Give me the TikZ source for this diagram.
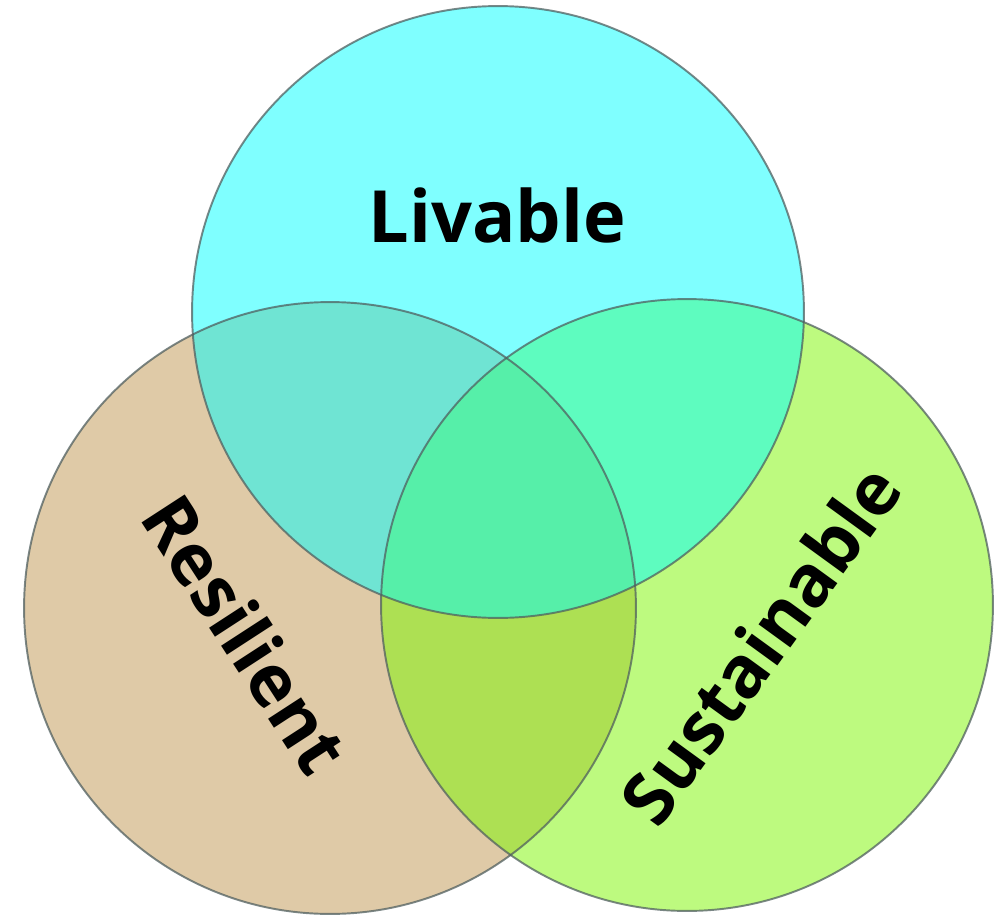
\documentclass[tikz,border=0pt]{standalone}
\usepackage{fontspec}
\newfontfamily\lbl{Open Sans}
\definecolor{cyanfill}{RGB}{0,255,255}
\definecolor{tanfill}{RGB}{223,202,167}
\definecolor{greenfill}{RGB}{125,247,0}
\definecolor{rimcol}{RGB}{80,95,95}
\tikzset{
  rim/.style={draw=rimcol, draw opacity=0.75, line width=1.1pt},
  word/.style={font=\lbl\bfseries\fontsize{41}{41}\selectfont, text=black, inner sep=0pt}
}
\begin{document}
\begin{tikzpicture}[x=0.02cm,y=-0.02cm]
\useasboundingbox[fill=white] (0,0) rectangle (1005,920);
\coordinate (ctop) at (498,312);
\coordinate (cleft) at (330,608);
\coordinate (cright) at (687,605);
% fills
\fill[tanfill] (cleft) circle[radius=6.12cm];
\fill[greenfill, fill opacity=0.5] (cright) circle[radius=6.12cm];
\fill[cyanfill, fill opacity=0.5] (ctop) circle[radius=6.12cm];
% outlines
\path[rim] (cleft) circle[radius=6.12cm];
\path[rim] (cright) circle[radius=6.12cm];
\path[rim] (ctop) circle[radius=6.12cm];
% labels
\node[word] (livable) at (497,215) {Livable};
\node[word, rotate=-57] (resilient) at (246,634) {Resilient};
\node[word, rotate=54] (sustainable) at (760,644) {Sustainable};
\end{tikzpicture}
\end{document}
